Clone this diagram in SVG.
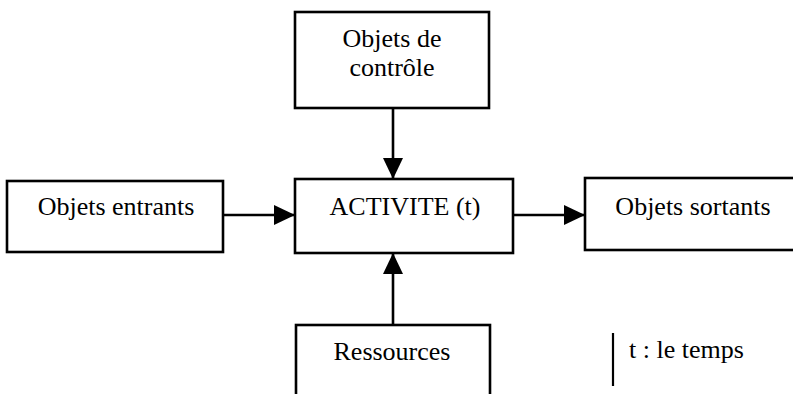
<svg xmlns="http://www.w3.org/2000/svg" width="793" height="394" viewBox="0 0 793 394">
<style>
.box{fill:#fff;stroke:#000;stroke-width:2.6}
.lbl{font-family:"Liberation Serif","Times New Roman",serif;font-size:26px;fill:#000;text-anchor:middle}
.con{stroke:#000;stroke-width:2.6;fill:none}
</style>
<defs>
<marker id="ah" markerUnits="userSpaceOnUse" markerWidth="22" markerHeight="22" refX="21" refY="10" orient="auto">
<path d="M0,0 L21,10 L0,20 Z" fill="#000"/>
</marker>
</defs>
<rect width="793" height="394" fill="#fff"/>
<g id="controle">
<rect class="box" x="295" y="12" width="194" height="96"/>
<text class="lbl" x="392" y="47">Objets de</text>
<text class="lbl" x="392" y="76">contrôle</text>
</g>
<g id="activite">
<rect class="box" x="295" y="179" width="218" height="74"/>
<text class="lbl" x="405" y="215">ACTIVITE (t)</text>
</g>
<g id="entrants">
<rect class="box" x="7" y="181" width="216" height="71"/>
<text class="lbl" x="116" y="215">Objets entrants</text>
</g>
<g id="sortants">
<rect class="box" x="585" y="178" width="220" height="72"/>
<text class="lbl" x="693" y="215">Objets sortants</text>
</g>
<g id="ressources">
<rect class="box" x="296" y="325" width="194" height="80"/>
<text class="lbl" x="392" y="360">Ressources</text>
</g>
<g id="legende">
<line x1="613" y1="333" x2="613" y2="386" stroke="#000" stroke-width="2.2"/>
<text class="lbl" x="629" y="358" style="text-anchor:start">t : le temps</text>
</g>
<g id="connecteurs">
<line class="con" x1="393" y1="108" x2="393" y2="179" marker-end="url(#ah)"/>
<line class="con" x1="223" y1="215" x2="295" y2="215" marker-end="url(#ah)"/>
<line class="con" x1="513" y1="215" x2="585" y2="215" marker-end="url(#ah)"/>
<line class="con" x1="393" y1="325" x2="393" y2="253" marker-end="url(#ah)"/>
</g>
</svg>
